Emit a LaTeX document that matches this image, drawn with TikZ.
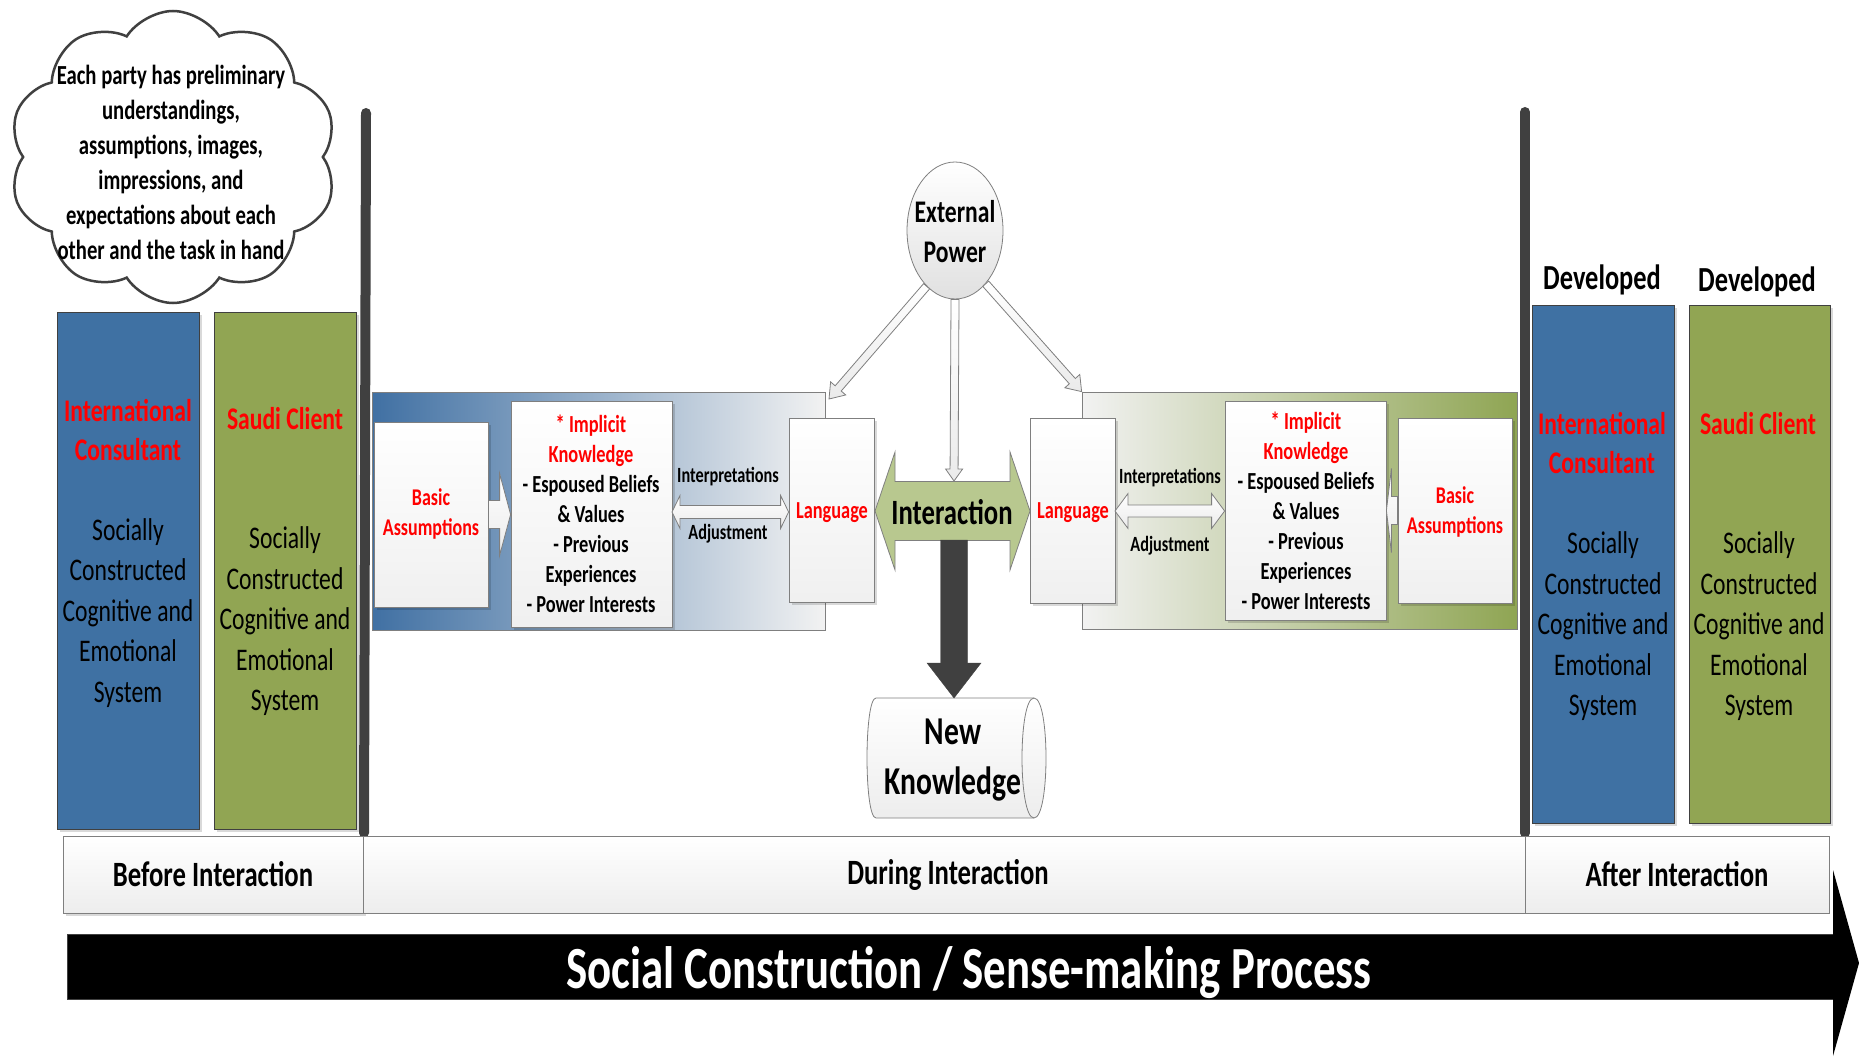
\documentclass[tikz,border=0pt]{standalone}
\usepackage{fontspec}
\setmainfont{Carlito}[FakeStretch=0.75]
\usetikzlibrary{shapes.geometric,shapes.symbols,calc,shadows}
\definecolor{cblue}{HTML}{3F71A3}
\definecolor{cgreen}{HTML}{91A553}
\definecolor{cred}{HTML}{FF0000}
\definecolor{cdark}{HTML}{404040}
\definecolor{cborder}{HTML}{7F7F7F}
\definecolor{cinter}{HTML}{B8C88F}
\definecolor{cpanelL}{HTML}{4070A3}
\definecolor{cpanelR}{HTML}{8FA553}
\definecolor{clight}{HTML}{F2F2F2}
\newcommand\fs[2]{\fontsize{#1}{#2}\selectfont}
% block arrow: from, to, half shaft, half head, head length, style
\newcommand\blkarrow[6]{%
  \coordinate (hbX) at ($(#2)!#5!(#1)$);
  \draw[#6] ($(#1)!#3!90:(#2)$) -- ($(hbX)!#3!90:(#2)$) -- ($(hbX)!#4!90:(#2)$) -- (#2)
    -- ($(hbX)!#4!-90:(#2)$) -- ($(hbX)!#3!-90:(#2)$) -- ($(#1)!#3!-90:(#2)$) -- cycle;}
% double block arrow: tip A, tip B, half shaft, half head, head length, style
\newcommand\dblarrow[6]{%
  \coordinate (haX) at ($(#1)!#5!(#2)$);
  \coordinate (hbX) at ($(#2)!#5!(#1)$);
  \draw[#6] (#1) -- ($(haX)!#4!90:(#2)$) -- ($(haX)!#3!90:(#2)$) -- ($(hbX)!#3!-90:(#1)$)
    -- ($(hbX)!#4!-90:(#1)$) -- (#2) -- ($(hbX)!#4!90:(#1)$) -- ($(hbX)!#3!90:(#1)$)
    -- ($(haX)!#3!-90:(#2)$) -- ($(haX)!#4!-90:(#2)$) -- cycle;}
\begin{document}
\begin{tikzpicture}[x=1pt,y=-1pt,
  txt/.style={align=center, inner sep=0pt},
  shadowed/.style={drop shadow={shadow xshift=2.5pt, shadow yshift=-2.5pt, fill=black, opacity=0.15}},
  colbox/.style={draw=cdark, line width=1pt, inner sep=0pt, shadowed},
  ttl/.style={txt, text=cred, font=\bfseries\fs{31.5}{39}},
  body/.style={txt, font=\fs{31.5}{40.5}},
  tl/.style={draw=cborder, line width=1pt, top color=white, bottom color=black!7, minimum height=77pt, inner sep=0pt, font=\bfseries\fs{35.6}{40}},
  ibox/.style={draw=cborder, line width=0.8pt, top color=white, bottom color=black!6, inner sep=0pt, shadowed},
  hollow/.style={draw=cborder, line width=0.8pt, top color=white, bottom color=black!8},
  iktxt/.style={txt, font=\bfseries\fs{24.5}{30}},
  redtxt/.style={txt, text=cred, font=\bfseries\fs{24}{30}},
  smalltxt/.style={txt, font=\bfseries\fs{21.7}{24}},
]
\useasboundingbox (0,0) rectangle (1859,1059);

% vertical separators
\draw[cdark, line width=10pt, line cap=round] (366,113) -- (364,833);
\draw[cdark, line width=10pt, line cap=round] (1525,112) -- (1525,833);

% cloud
\node[cloud, cloud puffs=10, cloud puff arc=115, cloud ignores aspect, draw=cdark, line width=2.5pt, fill=white, minimum width=328pt, minimum height=292pt] (cloud) at (173,157) {};
\node[txt, font=\bfseries\fs{27.6}{35}] (cloudtxt) at (171,162) {Each party has preliminary\\understandings,\\assumptions, images,\\impressions, and\\expectations about each\\other and the task in hand};

% before columns
\node[colbox, fill=cblue, minimum width=142pt, minimum height=517pt] (bl) at (128,570.5) {};
\node[colbox, fill=cgreen, minimum width=142pt, minimum height=517pt] (gl) at (285,570.5) {};
\node[ttl] (blt) at (128,430) {International\\Consultant};
\node[body] (blb) at (128,613) {Socially\\Constructed\\Cognitive and\\Emotional\\System};
\node[ttl] (glt) at (285,419) {Saudi Client};
\node[body] (glb) at (285,621.5) {Socially\\Constructed\\Cognitive and\\Emotional\\System};

% after columns
\node[txt, font=\bfseries\fs{35.2}{40}] (dev1) at (1602,280) {Developed};
\node[txt, font=\bfseries\fs{35.2}{40}] (dev2) at (1757,282) {Developed};
\node[colbox, fill=cblue, minimum width=142pt, minimum height=518pt] (br) at (1603,564) {};
\node[colbox, fill=cgreen, minimum width=141pt, minimum height=518pt] (gr) at (1759.5,564) {};
\node[ttl] (brt) at (1602,443) {International\\Consultant};
\node[body] (brb) at (1603,626.5) {Socially\\Constructed\\Cognitive and\\Emotional\\System};
\node[ttl] (grt) at (1758,423.5) {Saudi Client};
\node[body] (grb) at (1759,626.5) {Socially\\Constructed\\Cognitive and\\Emotional\\System};

% timeline
\node[tl, minimum width=300pt, shadowed] (before) at (213,874.5) {Before Interaction};
\node[tl, minimum width=1162pt] (during) at (944,874.5) {\hspace*{8pt}During Interaction};
\node[tl, minimum width=304pt] (after) at (1677,874.5) {After Interaction};

% big process arrow
\fill[black] (67,934) -- (1833,934) -- (1833,870) -- (1859,963) -- (1833,1056) -- (1833,999) -- (67,999) -- cycle;
\draw[cdark, line width=0.8pt] (1833,934) -- (67,934) -- (67,999) -- (1833,999);
\node[txt, text=white, font=\bfseries\fs{59.8}{64}] (process) at (969,973) {Social Construction / Sense-making Process};

% panels
\node[draw=cborder, line width=0.8pt, left color=cpanelL, right color=clight, minimum width=453pt, minimum height=238pt, inner sep=0pt] (LP) at (598.5,511) {};
\node[draw=cborder, line width=0.8pt, left color=clight, right color=cpanelR, minimum width=435pt, minimum height=237pt, inner sep=0pt] (RP) at (1299.5,510.5) {};

% inner boxes left
\node[ibox, minimum width=114pt, minimum height=185pt] (BAL) at (431,514.5) {};
\node[ibox, minimum width=161pt, minimum height=226pt] (IKL) at (591.5,514) {};
\node[ibox, minimum width=85pt, minimum height=184pt] (LGL) at (831.5,510) {};
% inner boxes right
\node[ibox, minimum width=85pt, minimum height=185pt] (LGR) at (1072.5,510.5) {};
\node[ibox, minimum width=161pt, minimum height=219pt] (IKR) at (1305.5,510.5) {};
\node[ibox, minimum width=114pt, minimum height=185pt] (BAR) at (1455,510.5) {};

% texts in boxes
\node[redtxt] (baltxt) at (431,514) {Basic\\Assumptions};
\node[redtxt] (bartxt) at (1455,511.5) {Basic\\Assumptions};
\node[iktxt] (ikltxt) at (591,514) {{\color{cred}* Implicit}\\{\color{cred}Knowledge}\\- Espoused Beliefs\\\& Values\\- Previous\\Experiences\\- Power Interests};
\node[iktxt] (ikrtxt) at (1306,511) {{\color{cred}* Implicit}\\{\color{cred}Knowledge}\\- Espoused Beliefs\\\& Values\\- Previous\\Experiences\\- Power Interests};
\node[redtxt, font=\bfseries\fs{24.4}{30}] (lgltxt) at (832,513) {Language};
\node[redtxt, font=\bfseries\fs{24.4}{30}] (lgrtxt) at (1073,513) {Language};

% basic assumptions -> implicit knowledge
\coordinate (a1) at (BAL.east);
\coordinate (a2) at (IKL.west |- BAL.east);
\blkarrow{a1}{a2}{14pt}{41pt}{11pt}{hollow}
\coordinate (a3) at (BAR.west);
\coordinate (a4) at (IKR.east |- BAR.west);
\blkarrow{a3}{a4}{14pt}{42pt}{5pt}{hollow}

% interpretations / adjustment
\coordinate (d1) at (672,512);
\coordinate (d2) at (LGL.west |- d1);
\dblarrow{d1}{d2}{6.5pt}{16.5pt}{8pt}{hollow}
\node[smalltxt] (int1) at (728,477) {Interpretations};
\node[smalltxt] (adj1) at (728,534) {Adjustment};
\coordinate (d3) at (1115,511);
\coordinate (d4) at (IKR.west |- d3);
\dblarrow{d3}{d4}{6pt}{17.5pt}{13pt}{hollow}
\node[smalltxt] (int2) at (1170,478) {Interpretations};
\node[smalltxt] (adj2) at (1170,546) {Adjustment};

% interaction
\coordinate (i1) at (875,511);
\coordinate (i2) at (1030,511);
\dblarrow{i1}{i2}{29.5pt}{59pt}{20pt}{draw=cborder, line width=0.8pt, fill=cinter}
\node[txt, font=\bfseries\fs{35.6}{40}] (inter) at (952,512) {Interaction};

% external power
\node[ellipse, draw=cborder, line width=0.8pt, top color=white, bottom color=black!12, minimum width=96pt, minimum height=137pt, inner sep=0pt] (ext) at (955,230.5) {};
\node[txt, font=\bfseries\fs{31.5}{40}] (exttxt) at (955,232) {External\\Power};
\coordinate (tipL) at (829,399);
\coordinate (tipR) at (RP.north west);
\coordinate (tipC) at (954,481);
\blkarrow{ext.243}{tipL}{4pt}{10pt}{14pt}{hollow}
\blkarrow{ext.300}{tipR}{4pt}{10pt}{14pt}{hollow}
\blkarrow{ext.south}{tipC}{4pt}{8.5pt}{12pt}{hollow}

% new knowledge (horizontal cylinder)
\path[draw=cborder, line width=0.8pt, top color=white, bottom color=black!7]
  (876,698) -- (1034,698) .. controls (1050,698) and (1050,818) .. (1034,818)
  -- (876,818) .. controls (864,818) and (864,698) .. (876,698) -- cycle;
\draw[cborder, line width=0.8pt] (1034,698) .. controls (1018,698) and (1018,818) .. (1034,818);
\node[txt, font=\bfseries\fs{39.5}{50}] (nktxt) at (953,760) {New\\Knowledge};
\coordinate (k1) at (954,540);
\coordinate (k2) at (954,698);
\blkarrow{k1}{k2}{13.5pt}{27pt}{35pt}{draw=cdark, fill=cdark}
\end{tikzpicture}
\end{document}
